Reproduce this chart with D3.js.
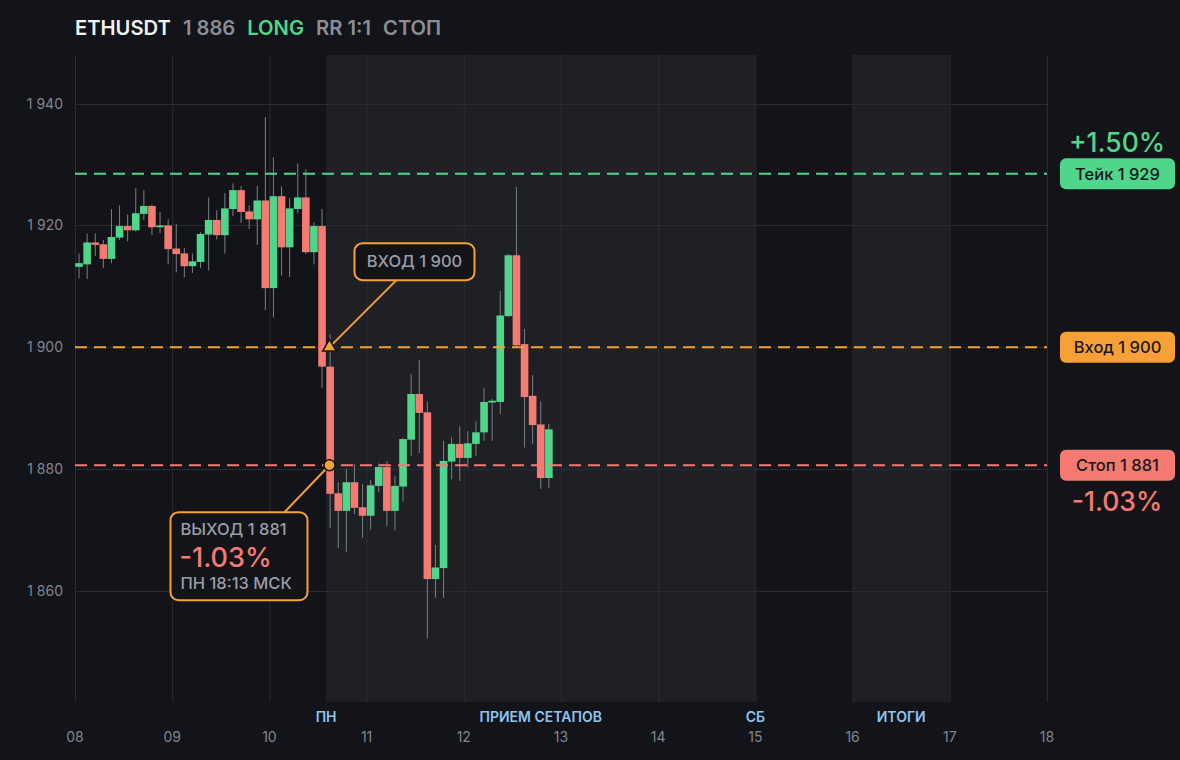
<!DOCTYPE html>
<html>
<head>
<meta charset="utf-8">
<script src="https://cdn.jsdelivr.net/npm/d3@7"></script>
<style>
  html, body { margin: 0; padding: 0; background: #131419; }
  svg { display: block; font-family: Inter, "Noto Sans", sans-serif; }
  .grid line { stroke: #2a2b31; stroke-width: 1; }
  .wick { stroke: #7c7f87; stroke-width: 1; }
</style>
</head>
<body>
<svg id="chart"></svg>
<script>
// 2h candles, ETHUSDT, from 8 Jul 00:00 UTC
const candleStart = new Date(Date.UTC(2023, 6, 8, 0, 0));
const candleOpen = [
  1913.2, 1913.6, 1917.2, 1916.9, 1914.5, 1918.0, 1919.9, 1919.2, 1921.9, 1923.2,
  1919.7, 1920.0, 1916.2, 1915.4, 1913.3, 1914.0, 1918.5, 1920.9, 1918.4, 1922.7,
  1925.8, 1922.3, 1921.0, 1924.1, 1909.7, 1924.8, 1916.4, 1922.7, 1924.6, 1915.6,
  1919.9, 1896.8, 1876.0, 1873.1, 1877.8, 1873.7, 1872.3, 1877.2, 1880.3, 1873.1,
  1877.1, 1884.8, 1892.3, 1889.3, 1861.9, 1863.7, 1881.2, 1884.1, 1881.8, 1884.1,
  1886.0, 1891.0, 1891.0, 1905.1, 1915.1, 1900.5, 1892.0, 1887.3, 1878.5
];
const candleHigh = [
  1915.4, 1918.7, 1918.7, 1917.6, 1922.7, 1923.3, 1921.8, 1926.1, 1925.8, 1923.4,
  1922.2, 1921.0, 1920.2, 1916.3, 1915.4, 1918.9, 1924.6, 1922.5, 1925.3, 1926.9,
  1926.5, 1923.3, 1926.5, 1937.8, 1931.2, 1926.4, 1924.5, 1930.2, 1929.2, 1920.5,
  1922.7, 1902.1, 1877.8, 1880.0, 1880.8, 1877.5, 1878.2, 1880.9, 1881.3, 1878.8,
  1885.1, 1895.6, 1897.9, 1891.1, 1867.5, 1884.6, 1885.2, 1887.0, 1886.2, 1887.8,
  1893.3, 1891.5, 1909.2, 1915.3, 1926.3, 1903.0, 1895.4, 1891.1, 1887.4
];
const candleLow = [
  1911.3, 1911.2, 1915.0, 1913.0, 1913.8, 1917.6, 1917.4, 1919.0, 1920.9, 1918.4,
  1918.7, 1913.6, 1912.3, 1911.5, 1912.2, 1913.0, 1912.6, 1917.7, 1915.4, 1921.5,
  1920.4, 1919.4, 1916.8, 1906.1, 1904.9, 1911.8, 1911.5, 1922.0, 1915.3, 1913.6,
  1893.3, 1870.3, 1867.0, 1866.4, 1872.6, 1868.7, 1870.0, 1876.2, 1870.6, 1869.9,
  1874.6, 1882.1, 1882.6, 1852.1, 1858.8, 1858.8, 1878.3, 1878.0, 1880.2, 1882.1,
  1884.6, 1884.6, 1889.0, 1905.0, 1900.0, 1883.5, 1884.1, 1876.7, 1876.9
];
const candleClose = [
  1913.8, 1917.2, 1916.8, 1914.5, 1918.1, 1919.9, 1919.2, 1922.0, 1923.2, 1919.7,
  1920.0, 1916.1, 1915.3, 1913.3, 1914.1, 1918.6, 1920.9, 1918.4, 1922.8, 1925.8,
  1922.2, 1921.0, 1924.1, 1909.7, 1924.8, 1916.4, 1922.8, 1924.6, 1915.6, 1919.9,
  1896.8, 1875.9, 1873.1, 1877.8, 1873.6, 1872.3, 1877.3, 1880.3, 1873.1, 1877.2,
  1884.9, 1892.3, 1889.2, 1861.9, 1863.8, 1881.3, 1884.1, 1881.8, 1884.2, 1886.0,
  1891.0, 1891.2, 1905.2, 1915.1, 1900.3, 1891.8, 1887.2, 1878.5, 1886.5
];

const priceTicks = [1860, 1880, 1900, 1920, 1940];
const dayTicks = [8, 9, 10, 11, 12, 13, 14, 15, 16, 17, 18];

// trade levels
const entryPrice = 1900;
const takePrice = 1928.5;
const stopPrice = 1880.6;
const takePct = '+1.50%';
const stopPct = '-1.03%';
const markerTime = new Date(Date.UTC(2023, 6, 10, 14, 50));

// session bands (UTC)
const sessionBands = [
  { from: new Date(Date.UTC(2023, 6, 10, 14)), to: new Date(Date.UTC(2023, 6, 15)) },
  { from: new Date(Date.UTC(2023, 6, 16)), to: new Date(Date.UTC(2023, 6, 17)) }
];
const sessionLabels = [
  { text: 'ПН', at: new Date(Date.UTC(2023, 6, 10, 14)) },
  { text: 'ПРИЕМ СЕТАПОВ', at: new Date(Date.UTC(2023, 6, 12, 19)) },
  { text: 'СБ', at: new Date(Date.UTC(2023, 6, 15)) },
  { text: 'ИТОГИ', at: new Date(Date.UTC(2023, 6, 16, 12)) }
];

const headerParts = [
  { text: 'ETHUSDT', color: '#f1f2f4' },
  { text: '1\u00A0886', color: '#8b8e97' },
  { text: 'LONG', color: '#4fd68b' },
  { text: 'RR 1:1', color: '#8b8e97' },
  { text: 'СТОП', color: '#8b8e97' }
];

const C = {
  bg: '#131419', band: '#1f2025', green: '#4fd68b', red: '#f47a72',
  orange: '#f7a035', text: '#81858e', blue: '#8fc4f0', note: '#9a9ea7'
};

const fmt = v => {
  const s = String(Math.round(v));
  return s.length > 3 ? s.slice(0, s.length - 3) + '\u00A0' + s.slice(-3) : s;
};

class CandleChart {
    constructor() {
        this.width = 1180;
        this.height = 760;
        this.svg = d3.select('#chart').attr('width', this.width).attr('height', this.height);
        this.svg.append('rect').attr('width', this.width).attr('height', this.height).attr('fill', C.bg);

        this.x = d3.scaleUtc()
            .domain([new Date(Date.UTC(2023, 6, 8)), new Date(Date.UTC(2023, 6, 18))])
            .range([75, 1047]);
        this.y = d3.scaleLinear().domain([1841.7, 1948]).range([702, 55]);

        this.candles = candleOpen.map((o, i) => ({
            t: d3.utcHour.offset(candleStart, 2 * i),
            o, h: candleHigh[i], l: candleLow[i], c: candleClose[i]
        }));

        this.drawHeader();
        this.drawBands();
        this.drawGrid();
        this.drawCandles();
        this.drawLevels();
        this.drawTrade();
    }

    drawHeader() {
        const t = this.svg.append('text').attr('x', 75).attr('y', 35)
            .attr('font-size', 20.2).attr('font-weight', 600);
        headerParts.forEach((p, i) => {
            t.append('tspan').attr('dx', i ? 12 : 0).attr('fill', p.color).text(p.text);
        });
    }

    drawBands() {
        const [y0, y1] = this.y.range();
        this.svg.append('g').selectAll('rect').data(sessionBands).enter().append('rect')
            .attr('x', d => this.x(d.from))
            .attr('width', d => this.x(d.to) - this.x(d.from))
            .attr('y', y1).attr('height', y0 - y1)
            .attr('fill', C.band);

        this.svg.append('g').selectAll('text').data(sessionLabels).enter().append('text')
            .attr('x', d => this.x(d.at)).attr('y', 722)
            .attr('text-anchor', 'middle').attr('font-size', 14).attr('font-weight', 600)
            .attr('fill', C.blue).text(d => d.text);
    }

    drawGrid() {
        const [y0, y1] = this.y.range();
        const days = dayTicks.map(d => new Date(Date.UTC(2023, 6, d)));
        const g = this.svg.append('g').attr('class', 'grid');

        g.selectAll('.v').data(days).enter().append('line').attr('class', 'v')
            .attr('x1', d => this.x(d) + 0.5).attr('x2', d => this.x(d) + 0.5)
            .attr('y1', y1).attr('y2', y0);
        g.selectAll('.h').data(priceTicks).enter().append('line').attr('class', 'h')
            .attr('x1', 75).attr('x2', 1047)
            .attr('y1', d => Math.round(this.y(d)) + 0.5).attr('y2', d => Math.round(this.y(d)) + 0.5);

        // price labels
        this.svg.append('g').selectAll('text').data(priceTicks).enter().append('text')
            .attr('x', 63).attr('y', d => this.y(d) + 5)
            .attr('text-anchor', 'end').attr('font-size', 14).attr('fill', C.text)
            .text(fmt);

        // day labels
        this.svg.append('g').selectAll('text').data(days).enter().append('text')
            .attr('x', d => this.x(d)).attr('y', 742)
            .attr('text-anchor', 'middle').attr('font-size', 14).attr('fill', C.text)
            .text(d3.utcFormat('%d'));
    }

    drawCandles() {
        const step = this.x(d3.utcHour.offset(candleStart, 2)) - this.x(candleStart);
        const bw = step * 0.94;
        const g = this.svg.append('g');

        g.selectAll('.wick').data(this.candles).enter().append('line').attr('class', 'wick')
            .attr('x1', d => this.x(d.t) + step / 2).attr('x2', d => this.x(d.t) + step / 2)
            .attr('y1', d => this.y(d.h)).attr('y2', d => this.y(d.l));

        g.selectAll('.body').data(this.candles).enter().append('rect')
            .attr('x', d => this.x(d.t) + (step - bw) / 2)
            .attr('width', bw)
            .attr('y', d => this.y(Math.max(d.o, d.c)))
            .attr('height', d => Math.max(1.8, Math.abs(this.y(d.o) - this.y(d.c))))
            .attr('fill', d => d.c >= d.o ? C.green : C.red);
    }

    drawLevels() {
        const levels = [
            { v: takePrice, color: C.green, label: 'Тейк ' + fmt(takePrice) },
            { v: entryPrice, color: C.orange, label: 'Вход ' + fmt(entryPrice) },
            { v: stopPrice, color: C.red, label: 'Стоп ' + fmt(stopPrice) }
        ];
        const g = this.svg.append('g');
        g.selectAll('line').data(levels).enter().append('line')
            .attr('x1', 75).attr('x2', 1047)
            .attr('y1', d => this.y(d.v)).attr('y2', d => this.y(d.v))
            .attr('stroke', d => d.color).attr('stroke-width', 2)
            .attr('stroke-dasharray', '12 7');

        const tags = g.selectAll('.tag').data(levels).enter().append('g')
            .attr('transform', d => `translate(1060, ${this.y(d.v) - 15.5})`);
        tags.append('rect').attr('width', 115).attr('height', 31).attr('rx', 6)
            .attr('fill', d => d.color);
        tags.append('text').attr('x', 57.5).attr('y', 21.5)
            .attr('text-anchor', 'middle').attr('font-size', 16.5).attr('font-weight', 500)
            .attr('fill', '#17181c').text(d => d.label);

        g.append('text').attr('x', 1117).attr('y', this.y(takePrice) - 22)
            .attr('text-anchor', 'middle').attr('font-size', 26.5).attr('font-weight', 500)
            .attr('fill', C.green).text(takePct);
        g.append('text').attr('x', 1117).attr('y', this.y(stopPrice) + 46)
            .attr('text-anchor', 'middle').attr('font-size', 26.5).attr('font-weight', 500)
            .attr('fill', C.red).text(stopPct);
    }

    drawTrade() {
        const mx = this.x(markerTime);
        const ey = this.y(entryPrice);
        const sy = this.y(stopPrice);
        const g = this.svg.append('g');

        // entry callout
        g.append('line').attr('x1', mx).attr('y1', ey).attr('x2', mx + 67).attr('y2', ey - 67)
            .attr('stroke', C.orange).attr('stroke-width', 2);
        g.append('rect').attr('x', mx + 25).attr('y', ey - 104).attr('width', 120).attr('height', 37)
            .attr('rx', 8).attr('fill', C.bg).attr('stroke', C.orange).attr('stroke-width', 2);
        g.append('text').attr('x', mx + 85).attr('y', ey - 80)
            .attr('text-anchor', 'middle').attr('font-size', 16.5).attr('font-weight', 500)
            .attr('fill', C.note).text('ВХОД ' + fmt(entryPrice));

        // exit callout
        g.append('line').attr('x1', mx).attr('y1', sy).attr('x2', mx - 45).attr('y2', sy + 47)
            .attr('stroke', C.orange).attr('stroke-width', 2);
        g.append('rect').attr('x', mx - 159).attr('y', sy + 47).attr('width', 137).attr('height', 88)
            .attr('rx', 8).attr('fill', C.bg).attr('stroke', C.orange).attr('stroke-width', 2);
        g.append('text').attr('x', mx - 149).attr('y', sy + 70)
            .attr('font-size', 16.5).attr('font-weight', 500).attr('fill', C.note)
            .text('ВЫХОД ' + fmt(stopPrice));
        g.append('text').attr('x', mx - 150).attr('y', sy + 102)
            .attr('font-size', 27).attr('font-weight', 500).attr('fill', C.red).text(stopPct);
        g.append('text').attr('x', mx - 149).attr('y', sy + 124)
            .attr('font-size', 16.5).attr('font-weight', 500).attr('fill', C.note)
            .text('ПН 18:13 МСК');

        // markers
        g.append('path')
            .attr('d', d3.symbol(d3.symbolTriangle, 80)())
            .attr('transform', `translate(${mx}, ${ey})`)
            .attr('fill', C.orange).attr('stroke', C.bg).attr('stroke-width', 1.5);
        g.append('circle').attr('cx', mx).attr('cy', sy).attr('r', 5.5)
            .attr('fill', C.orange).attr('stroke', C.bg).attr('stroke-width', 1.5);
    }
}

document.addEventListener('DOMContentLoaded', () => {
    new CandleChart();
});
</script>
</body>
</html>
